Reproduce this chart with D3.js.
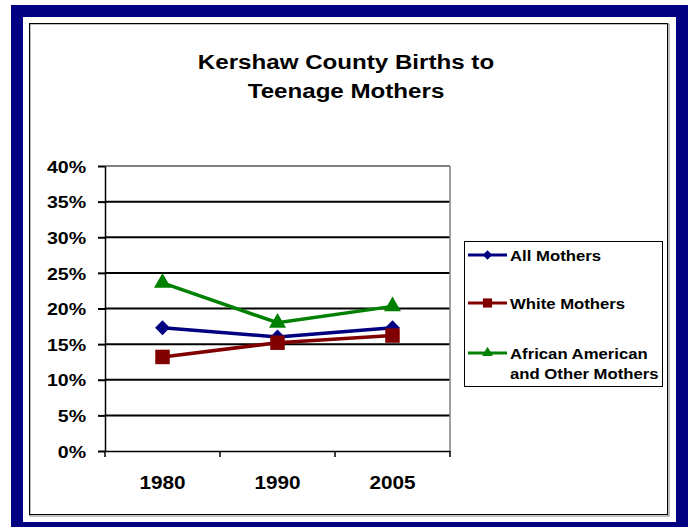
<!DOCTYPE html>
<html lang="en">
<head>
<meta charset="UTF-8">
<title>Kershaw County Births to Teenage Mothers</title>
<script src="https://cdn.jsdelivr.net/npm/d3@7"></script>
<style>
  body { margin: 0; background: #fff; }
  svg { display: block; font-family: "Liberation Sans", Arial, sans-serif; font-weight: bold; }
</style>
</head>
<body>
<svg id="chart" width="689" height="527"></svg>
<script>
// data
let years = ['1980', '1990', '2005']
let allMothers = [0.173, 0.160, 0.173]
let whiteMothers = [0.132, 0.152, 0.162]
let africanAmerican = [0.236, 0.180, 0.203]
let yTicks = [0, 0.05, 0.10, 0.15, 0.20, 0.25, 0.30, 0.35, 0.40]

// diamond = square turned 45deg
let series = [
  { name: ['All Mothers'], values: allMothers, color: '#000080', shape: d3.symbolSquare, size: 110, rot: 45 },
  { name: ['White Mothers'], values: whiteMothers, color: '#800000', shape: d3.symbolSquare, size: 210, rot: 0 },
  { name: ['African American', 'and Other Mothers'], values: africanAmerican, color: '#008000', shape: d3.symbolTriangle, size: 125, rot: 0 }
]

let sx = 1.15 // the original text is stretched sideways
let svg = d3.select('#chart')

// navy frame and inner border
svg.append('rect').attr('x', 17).attr('y', 11).attr('width', 665).attr('height', 517)
  .attr('fill', 'none').attr('stroke', '#000080').attr('stroke-width', 12)
svg.append('rect').attr('x', 30).attr('y', 24).attr('width', 639).attr('height', 492)
  .attr('fill', 'none').attr('stroke', '#808080').attr('stroke-width', 1)
svg.append('rect').attr('x', 29.5).attr('y', 23.5).attr('width', 638).attr('height', 491)
  .attr('fill', 'none').attr('stroke', '#000').attr('stroke-width', 1)

// title
let title = ['Kershaw County Births to', 'Teenage Mothers']
title.forEach((t, i) => {
  svg.append('text')
    .attr('transform', `translate(346,${69 + i * 29}) scale(${sx},1)`)
    .attr('text-anchor', 'middle').attr('font-size', 21).attr('fill', '#000')
    .text(t)
})

let pLeft = 105, pRight = 450, pTop = 166, pBottom = 451

let x = d3.scaleBand().domain(years).range([pLeft, pRight])
let y = d3.scaleLinear().domain([0, 0.4]).range([pBottom, pTop])

// gridlines
svg.append('g').selectAll('line').data(yTicks.slice(1, -1)).join('line')
  .attr('x1', pLeft).attr('x2', pRight)
  .attr('y1', d => y(d)).attr('y2', d => y(d))
  .attr('stroke', '#000').attr('stroke-width', 2)

// plot border top/right
svg.append('line').attr('x1', pLeft).attr('x2', pRight).attr('y1', y(0.4)).attr('y2', y(0.4))
  .attr('stroke', '#808080').attr('stroke-width', 2)
svg.append('line').attr('x1', pRight).attr('x2', pRight).attr('y1', pTop).attr('y2', pBottom)
  .attr('stroke', '#808080').attr('stroke-width', 1.5)

// y axis
let yAxis = svg.append('g').attr('transform', `translate(${pLeft},0)`)
  .call(d3.axisLeft(y).tickValues(yTicks).tickFormat(d3.format('.0%')).tickSize(7).tickSizeOuter(0))
yAxis.attr('font-family', null).attr('font-size', null)
yAxis.select('.domain').attr('stroke', '#000').attr('stroke-width', 1.5)
yAxis.selectAll('.tick line').attr('stroke', '#000').attr('stroke-width', 2)
yAxis.selectAll('.tick text')
  .attr('x', -19 / sx).attr('dy', '0.36em')
  .attr('transform', `scale(${sx},1)`)
  .attr('font-size', 17).attr('fill', '#000')

// x axis
let xAxis = svg.append('g').attr('transform', `translate(0,${pBottom})`)
  .call(d3.axisBottom(x).tickSize(0).tickSizeOuter(0))
xAxis.attr('font-family', null).attr('font-size', null)
xAxis.select('.domain').attr('stroke', '#000').attr('stroke-width', 1.5)
xAxis.selectAll('.tick text')
  .attr('y', 0).attr('dy', 38).attr('x', 0)
  .attr('transform', `scale(${sx},1)`)
  .attr('font-size', 18).attr('fill', '#000')
// band boundary ticks
let bounds = years.map(d => x(d)).concat([pRight])
svg.append('g').selectAll('line').data(bounds).join('line')
  .attr('x1', d => d).attr('x2', d => d)
  .attr('y1', pBottom).attr('y2', pBottom + 6)
  .attr('stroke', '#000').attr('stroke-width', 1.5)

// lines and markers
let cx = d => x(d) + x.bandwidth() / 2
let line = d3.line().x((v, i) => cx(years[i])).y(v => y(v))
series.forEach(s => {
  svg.append('path').datum(s.values)
    .attr('d', line).attr('fill', 'none')
    .attr('stroke', s.color).attr('stroke-width', 3.5)
  svg.append('g').selectAll('path').data(s.values).join('path')
    .attr('d', d3.symbol(s.shape, s.size))
    .attr('transform', (v, i) => `translate(${cx(years[i])},${y(v)}) rotate(${s.rot})`)
    .attr('fill', s.color)
})

// legend
let lg = svg.append('g').attr('transform', 'translate(464,241)')
lg.append('rect').attr('x', 0.5).attr('y', 0.5).attr('width', 198).attr('height', 145)
  .attr('fill', '#fff').attr('stroke', '#000').attr('stroke-width', 1)
let rowY = [14, 62, 112]
series.forEach((s, i) => {
  let g = lg.append('g').attr('transform', `translate(0,${rowY[i]})`)
  g.append('line').attr('x1', 4).attr('x2', 43).attr('y1', 0).attr('y2', 0)
    .attr('stroke', s.color).attr('stroke-width', 3)
  g.append('path').attr('d', d3.symbol(s.shape, s.size * 0.4))
    .attr('transform', `translate(23.5,0) rotate(${s.rot})`).attr('fill', s.color)
  s.name.forEach((t, j) => {
    g.append('text')
      .attr('transform', `translate(46,${5.5 + j * 20}) scale(${sx * 0.97},1)`)
      .attr('font-size', 15).attr('fill', '#000')
      .text(t)
  })
})
</script>
</body>
</html>
